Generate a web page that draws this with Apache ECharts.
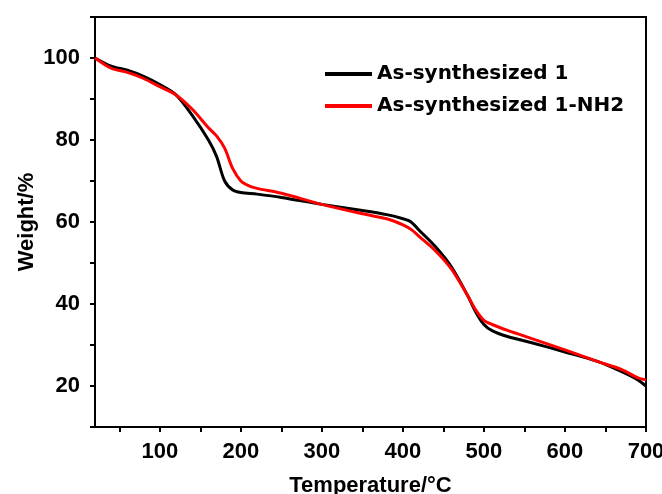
<!DOCTYPE html>
<html>
<head>
<meta charset="utf-8">
<script src="https://cdn.jsdelivr.net/npm/echarts@6/dist/echarts.min.js"></script>
<style>html,body{margin:0;padding:0;background:#fff;}#c{width:662px;height:494px;}</style>
</head>
<body>
<div id="c"></div>
<script>
const seriesNames = ['As-synthesized 1', 'As-synthesized 1-NH2'];
const tempA = [20,40,60,80,100,120,140,160,170,180,190,200,220,250,300,350,380,400,410,420,440,460,480,490,500,510,530,560,600,640,670,690,700];
const weightA = [100,98,97,95.5,93.5,91,86,80,76,70,67.8,67.2,66.8,66,64.3,62.8,61.8,60.8,60,58,54,49,42,38,35,33.5,32,30.5,28.3,26,23.5,21.5,20];
const tempB = [20,40,60,80,100,120,140,160,170,180,190,200,210,220,250,300,350,380,400,410,420,440,460,480,490,500,510,530,560,600,640,670,690,700];
const weightB = [100,97.5,96.5,95,93,91,87.5,83,81,78,73,70,68.8,68.2,67,64.3,62,60.8,59.3,58.2,56.5,53,48.5,42,38.5,36,35,33.5,31.5,28.8,26,24,22,21.5];
const xTicks = [50,100,150,200,250,300,350,400,450,500,550,600,650,700];
const xLabels = [100,200,300,400,500,600,700];
const yTicks = [10,20,30,40,50,60,70,80,90,100,110];
const yLabels = [20,40,60,80,100];

const font = '"Liberation Sans", Arial, sans-serif';
const chart = echarts.init(document.getElementById('c'), null, {renderer: 'canvas'});
chart.setOption({
  backgroundColor: '#fff',
  animation: false,
  grid: {left: 95, right: 16, top: 17, bottom: 67, show: true, borderColor: '#000', borderWidth: 2, containLabel: false, outerBoundsMode: 'none'},
  legend: {
    orient: 'vertical', left: 320, top: 59, itemWidth: 47, itemHeight: 4, itemGap: 12,
    icon: 'rect',
    textStyle: {fontFamily: '"DejaVu Sans", sans-serif', fontWeight: 'bold', fontSize: 20, color: '#000', lineHeight: 20},
    data: seriesNames
  },
  xAxis: {
    type: 'value', min: 20, max: 700,
    name: 'Temperature/°C', nameLocation: 'middle', nameGap: 48, nameMoveOverlap: false,
    nameTextStyle: {fontFamily: font, fontWeight: 'bold', fontSize: 22, color: '#000'},
    axisLine: {show: true, lineStyle: {color: '#000', width: 2}},
    axisTick: {show: true, inside: false, length: 5, lineStyle: {color: '#000', width: 2}, customValues: xTicks},
    axisLabel: {show: true, margin: 14, fontFamily: font, fontWeight: 'bold', fontSize: 22, color: '#000', customValues: xLabels},
    splitLine: {show: false}
  },
  yAxis: {
    type: 'value', min: 10, max: 110,
    name: 'Weight/%', nameLocation: 'middle', nameGap: 57, nameMoveOverlap: false,
    nameTextStyle: {fontFamily: font, fontWeight: 'bold', fontSize: 22, color: '#000'},
    axisLine: {show: true, lineStyle: {color: '#000', width: 2}},
    axisTick: {show: true, inside: false, length: 5, lineStyle: {color: '#000', width: 2}, customValues: yTicks},
    axisLabel: {show: true, margin: 15, fontFamily: font, fontWeight: 'bold', fontSize: 22, color: '#000', customValues: yLabels},
    splitLine: {show: false}
  },
  series: [
    {name: seriesNames[0], type: 'line', showSymbol: false, symbol: 'none', smooth: 0.3,
     lineStyle: {color: '#000', width: 3}, itemStyle: {color: '#000'},
     data: tempA.map((t, i) => [t, weightA[i]])},
    {name: seriesNames[1], type: 'line', showSymbol: false, symbol: 'none', smooth: 0.3,
     lineStyle: {color: '#f00', width: 3}, itemStyle: {color: '#f00'},
     data: tempB.map((t, i) => [t, weightB[i]])}
  ]
});
</script>
</body>
</html>
